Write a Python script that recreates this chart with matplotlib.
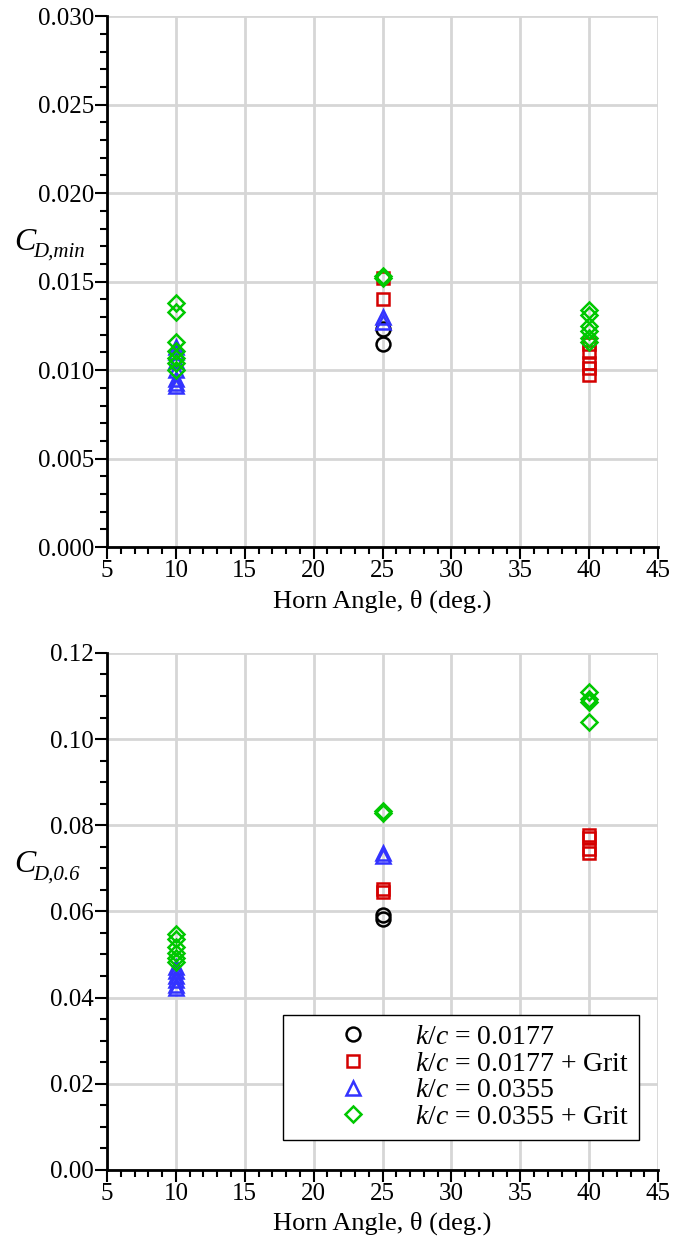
import matplotlib.pyplot as plt
import numpy as np
from matplotlib.ticker import MultipleLocator

plt.rcParams['font.family'] = ['Liberation Serif', 'DejaVu Serif']
plt.rcParams['mathtext.fontset'] = 'custom'
plt.rcParams['mathtext.rm'] = 'Liberation Serif'
plt.rcParams['mathtext.it'] = 'Liberation Serif:italic'
plt.rcParams['font.size'] = 18

# horn angle (deg.) and drag coefficients for each roughness case
# top panel: C_D,min
cmin_kc177_x = [25, 25]
cmin_kc177_y = [0.0123, 0.0115]
cmin_kc177g_x = [25, 25, 40, 40, 40, 40, 40]
cmin_kc177g_y = [0.0152, 0.0140, 0.0115, 0.0110, 0.0104, 0.0101, 0.0097]
cmin_kc355_x = [10, 10, 10, 10, 10, 10, 10, 25, 25]
cmin_kc355_y = [0.0113, 0.0110, 0.0105, 0.0100, 0.0095, 0.0093, 0.0091, 0.0130, 0.0127]
cmin_kc355g_x = [10, 10, 10, 10, 10, 10, 10, 25, 25, 40, 40, 40, 40, 40, 40]
cmin_kc355g_y = [0.0138, 0.0133, 0.0116, 0.0111, 0.0107, 0.0104, 0.0100,
                 0.0153, 0.0152, 0.0134, 0.0131, 0.0125, 0.0122, 0.0118, 0.0116]

# bottom panel: C_D,0.6
c06_kc177_x = [25, 25]
c06_kc177_y = [0.0592, 0.0583]
c06_kc177g_x = [25, 25, 40, 40, 40, 40]
c06_kc177g_y = [0.0652, 0.0645, 0.0778, 0.0771, 0.0745, 0.0736]
c06_kc355_x = [10, 10, 10, 10, 10, 10, 25, 25]
c06_kc355_y = [0.0472, 0.0462, 0.0450, 0.0440, 0.0430, 0.0422, 0.0735, 0.0728]
c06_kc355g_x = [10, 10, 10, 10, 10, 10, 25, 25, 40, 40, 40, 40]
c06_kc355g_y = [0.0548, 0.0535, 0.0518, 0.0504, 0.0492, 0.0483,
                0.0834, 0.0828, 0.1110, 0.1092, 0.1085, 0.1040]

labels = [r'$k/c$ = 0.0177', r'$k/c$ = 0.0177 + Grit',
          r'$k/c$ = 0.0355', r'$k/c$ = 0.0355 + Grit']
colors = ['black', '#d40000', '#3333ff', '#00c800']
markers = ['o', 's', '^', 'D']
msizes = [10, 9, 10, 8.5]

W, H = 673, 1238
fig = plt.figure(figsize=(W / 100, H / 100), dpi=100)
ax1 = fig.add_axes([0.159, 0.558, 0.819, 0.429])
ax2 = fig.add_axes([0.159, 0.055, 0.819, 0.4176])


def style_axes(ax, ymax, ymajor, yminor, yfmt):
    ax.set_xlim(5, 45)
    ax.set_ylim(0, ymax)
    ax.xaxis.set_major_locator(MultipleLocator(5))
    ax.xaxis.set_minor_locator(MultipleLocator(1))
    ax.yaxis.set_major_locator(MultipleLocator(ymajor))
    ax.yaxis.set_minor_locator(MultipleLocator(yminor))
    ax.yaxis.set_major_formatter(plt.FormatStrFormatter(yfmt))
    ax.grid(True, which='major', color='#d6d6d6', linewidth=2)
    ax.set_axisbelow(True)
    for s in ['top', 'right']:
        ax.spines[s].set_visible(False)
    for s in ['left', 'bottom']:
        ax.spines[s].set_linewidth(2)
    ax.tick_params(which='major', direction='out', length=8.5, width=1.5,
                   labelsize=18, pad=1)
    ax.tick_params(which='minor', direction='out', length=5, width=1.5)
    ax.set_xlabel('Horn Angle, θ (deg.)', fontsize=19, labelpad=5)


sets1 = [(cmin_kc177_x, cmin_kc177_y), (cmin_kc177g_x, cmin_kc177g_y),
         (cmin_kc355_x, cmin_kc355_y), (cmin_kc355g_x, cmin_kc355g_y)]
sets2 = [(c06_kc177_x, c06_kc177_y), (c06_kc177g_x, c06_kc177g_y),
         (c06_kc355_x, c06_kc355_y), (c06_kc355g_x, c06_kc355g_y)]

for ax, sets in [(ax1, sets1), (ax2, sets2)]:
    for (xs, ys), c, m, ms, lab in zip(sets, colors, markers, msizes, labels):
        ax.plot(xs, ys, linestyle='none', marker=m, markersize=ms,
                markerfacecolor='none', markeredgecolor=c,
                markeredgewidth=1.8, label=lab, clip_on=False)

style_axes(ax1, 0.030, 0.005, 0.001, '%.3f')
style_axes(ax2, 0.12, 0.02, 0.005, '%.2f')

# y labels: italic C with a smaller italic subscript (pixel positions)
for sub, base_c, base_s in [('D,min', 250, 257), ('D,0.6', 872, 880)]:
    fig.text(14 / W, 1 - base_c / H, 'C', fontsize=23, fontstyle='italic',
             ha='left', va='baseline')
    fig.text(33 / W, 1 - base_s / H, sub, fontsize=15, fontstyle='italic',
             ha='left', va='baseline')

leg = ax2.legend(loc='lower right', bbox_to_anchor=(0.9655, 0.058),
                 fontsize=20, frameon=True, fancybox=False, framealpha=1,
                 edgecolor='black', handletextpad=0.1, borderpad=0.35,
                 labelspacing=0.05, handlelength=4.3, borderaxespad=0)
leg.get_frame().set_linewidth(1)

fig.savefig('out.png', dpi=100)
